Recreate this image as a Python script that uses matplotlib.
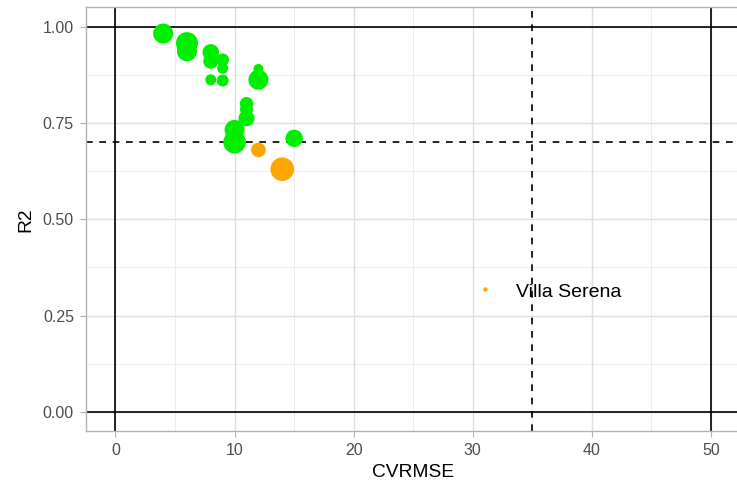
import matplotlib
matplotlib.use("Agg")
import matplotlib.pyplot as plt
import numpy as np

plt.rcParams['font.family'] = ['Liberation Sans', 'DejaVu Sans']

# data
cvrmse = [4, 6, 6, 8, 8, 9, 9, 8, 9, 12, 12, 11, 11, 11, 10, 10, 15, 12, 14]
r2 = [0.982, 0.957, 0.936, 0.933, 0.910, 0.914, 0.892, 0.862, 0.860, 0.890,
      0.862, 0.800, 0.785, 0.762, 0.732, 0.700, 0.710, 0.680, 0.630]
weight = [10, 11, 10, 8.3, 7.5, 6.3, 5.5, 5.5, 6, 5, 10, 6.7, 6.5, 8, 10, 11.3, 8.7, 7.3, 11.8]
group = ['ok'] * 17 + ['warn'] * 2
colors = {'ok': '#00EE00', 'warn': '#FFA500'}

label_point = (31, 0.32)
label_text = 'Villa Serena'
cv_limit = 35
r2_limit = 0.70

xticks = [0, 10, 20, 30, 40, 50]
yticks = [0.00, 0.25, 0.50, 0.75, 1.00]

fig = plt.figure(figsize=(7.37, 4.87), dpi=100)
ax = fig.add_axes([85.7 / 737, (487 - 431.3) / 487, (740.8 - 85.7) / 737, (431.3 - 7.3) / 487])
ax.set_xlim(-2.5, 52.5)
ax.set_ylim(-0.05, 1.05)

# grid
for v in [5, 15, 25, 35, 45]:
    ax.axvline(v, color='#EDEDED', lw=0.7, zorder=0)
for v in [0.125, 0.375, 0.625, 0.875]:
    ax.axhline(v, color='#EDEDED', lw=0.7, zorder=0)
for v in xticks:
    ax.axvline(v, color='#DEDEDE', lw=1.0, zorder=0)
for v in yticks:
    ax.axhline(v, color='#DEDEDE', lw=1.0, zorder=0)

# reference lines
for v in [0, 50]:
    ax.axvline(v, color='black', lw=1.2, zorder=1)
for v in [0, 1]:
    ax.axhline(v, color='black', lw=1.2, zorder=1)
ax.axvline(cv_limit, color='black', lw=1.2, dashes=(4, 4), zorder=1)
ax.axhline(r2_limit, color='black', lw=1.2, dashes=(4, 4), zorder=1)

sizes = [(1.44 * w) ** 2 for w in weight]
ax.scatter(cvrmse, r2, s=sizes, c=[colors[g] for g in group], linewidths=0, zorder=3)

ax.scatter([label_point[0]], [label_point[1]], s=(1.44 * 2.2) ** 2, c=colors['warn'], linewidths=0, zorder=3)
ax.annotate(label_text, xy=(label_point[0] + 2.6, label_point[1]), xytext=(0, -2.5),
            textcoords='offset points', fontsize=14, va='center', ha='left', color='black', zorder=4)

ax.set_xticks(xticks)
ax.set_xticklabels([str(v) for v in xticks])
ax.set_yticks(yticks)
ax.set_yticklabels([f'{v:.2f}' for v in yticks])
ax.tick_params(axis='both', colors='#B3B3B3', length=4.5, width=0.8, labelcolor='#4D4D4D', labelsize=11.5, pad=4)

for s in ax.spines.values():
    s.set_color('#B3B3B3')
    s.set_linewidth(1.0)

ax.set_xlabel('CVRMSE', fontsize=13.8, color='black', labelpad=4)
ax.set_ylabel('R2', fontsize=13.8, color='black', labelpad=6)

fig.savefig('out.png', dpi=100)
